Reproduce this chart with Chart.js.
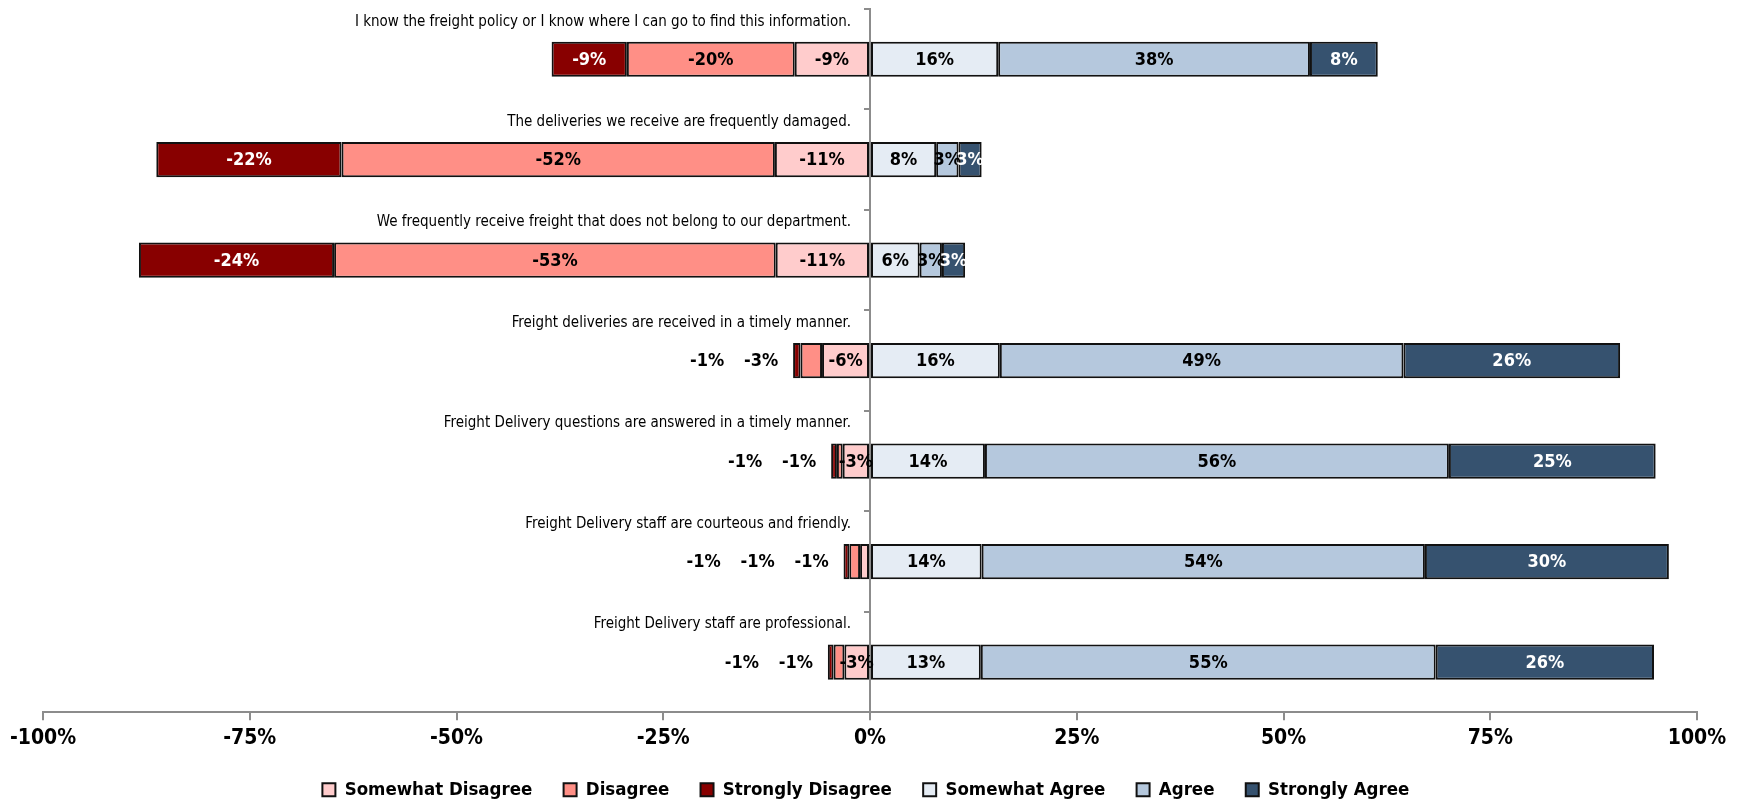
<!DOCTYPE html>
<html>
<head>
<meta charset="utf-8">
<script src="https://cdn.jsdelivr.net/npm/chart.js@4.4.1/dist/chart.umd.min.js"></script>
<style>
    html, body { margin: 0; padding: 0; background: #fff; overflow: hidden; }
    .chart-box { width: 1741px; height: 804px; position: relative; }
</style>
</head>
<body>
<div class="chart-box"><canvas id="likert"></canvas></div>
<script>
const categories = [
    'I know the freight policy or I know where I can go to find this information.',
    'The deliveries we receive are frequently damaged.',
    'We frequently receive freight that does not belong to our department.',
    'Freight deliveries are received in a timely manner.',
    'Freight Delivery questions are answered in a timely manner.',
    'Freight Delivery staff are courteous and friendly.',
    'Freight Delivery staff are professional.'
]

// disagree side is stored as positive shares, flipped to negative below
const somewhatDisagree = [9.1, 11.5, 11.4, 5.8, 3.3, 1.2, 3.1]
const disagree = [20.3, 52.4, 53.4, 2.6, 0.7, 1.3, 1.3]
const stronglyDisagree = [9.1, 22.4, 23.6, 0.9, 0.7, 0.7, 0.7]
const somewhatAgree = [15.5, 8.0, 6.0, 15.7, 13.9, 13.5, 13.4]
const agree = [37.7, 2.7, 2.7, 48.8, 56.1, 53.6, 55.0]
const stronglyAgree = [8.2, 2.8, 2.8, 26.2, 25.0, 29.5, 26.4]

const xTicks = [-100, -75, -50, -25, 0, 25, 50, 75, 100]

const narrow = '"Liberation Sans Narrow", "Arial Narrow", "DejaVu Sans Condensed", sans-serif'

const series = [
    { label: 'Somewhat Disagree', data: somewhatDisagree.map(v => -v), color: '#FFCCCC', text: '#000' },
    { label: 'Disagree', data: disagree.map(v => -v), color: '#FF8F86', text: '#000' },
    { label: 'Strongly Disagree', data: stronglyDisagree.map(v => -v), color: '#880000', text: '#fff' },
    { label: 'Somewhat Agree', data: somewhatAgree, color: '#E5ECF4', text: '#000' },
    { label: 'Agree', data: agree, color: '#B5C8DD', text: '#000' },
    { label: 'Strongly Agree', data: stronglyAgree, color: '#36526F', text: '#fff' }
]

// question text sits above each bar, right-aligned against the zero line
const questionLabels = {
    id: 'questionLabels',
    afterDatasetsDraw(chart) {
        const ctx = chart.ctx
        const zero = chart.scales.x.getPixelForValue(0)
        const bar = chart.getDatasetMeta(0).data
        ctx.save()
        ctx.font = '15px ' + narrow
        ctx.fillStyle = '#000'
        ctx.textAlign = 'right'
        ctx.textBaseline = 'middle'
        for (let i = 0; i < categories.length; i++) {
            const top = bar[i].y - bar[i].height / 2
            ctx.fillText(categories[i], zero - 19, top - 20)
        }
        ctx.restore()
    }
}

// percentage labels; thin disagree slivers get pushed out to the left of the bar
const valueLabels = {
    id: 'valueLabels',
    afterDatasetsDraw(chart) {
        const ctx = chart.ctx
        ctx.save()
        ctx.font = 'bold 18px ' + narrow
        ctx.textAlign = 'center'
        ctx.textBaseline = 'middle'
        for (let i = 0; i < categories.length; i++) {
            let outside = 0
            const leftEdge = chart.getDatasetMeta(2).data[i].x
            series.forEach((s, d) => {
                const el = chart.getDatasetMeta(d).data[i]
                const v = s.data[i]
                const txt = Math.round(v) + '%'
                if (v > 0 || v <= -3) {
                    ctx.fillStyle = s.text
                    ctx.fillText(txt, (el.x + el.base) / 2, el.y + 1)
                } else {
                    ctx.fillStyle = '#000'
                    ctx.fillText(txt, leftEdge - 32 - outside * 54, el.y + 1)
                    outside++
                }
            })
        }
        ctx.restore()
    }
}

new Chart(document.getElementById('likert'), {
    type: 'bar',
    data: {
        labels: categories,
        datasets: series.map(s => ({
            label: s.label,
            data: s.data,
            backgroundColor: s.color,
            borderColor: '#111',
            borderWidth: 2,
            borderSkipped: false,
            barPercentage: 0.35,
            categoryPercentage: 1
        }))
    },
    options: {
        indexAxis: 'y',
        animation: false,
        responsive: true,
        maintainAspectRatio: false,
        layout: {
            padding: { left: 43, right: 44, top: 9, bottom: -5 }
        },
        plugins: {
            legend: {
                position: 'bottom',
                labels: {
                    boxWidth: 13,
                    boxHeight: 13,
                    padding: 23,
                    color: '#000',
                    font: { family: narrow, size: 18.5, weight: 'bold' },
                    // a trailing en space widens the gap between entries without adding vertical room
                    generateLabels: chart => Chart.defaults.plugins.legend.labels.generateLabels(chart)
                        .map(item => ({ ...item, text: item.text + '\u2002' }))
                }
            },
            tooltip: { enabled: false }
        },
        scales: {
            x: {
                stacked: true,
                min: -100,
                max: 100,
                afterBuildTicks: scale => {
                    scale.ticks = xTicks.map(v => ({ value: v }))
                },
                ticks: {
                    color: '#000',
                    padding: 6,
                    callback: v => v + '%',
                    font: { family: narrow, size: 21, weight: 'bold' }
                },
                grid: {
                    drawOnChartArea: false,
                    tickLength: 8,
                    color: '#8c8c8c',
                    lineWidth: 2
                },
                border: { color: '#8c8c8c', width: 2 }
            },
            y: {
                stacked: true,
                position: { x: 0 },
                ticks: { display: false },
                grid: {
                    drawOnChartArea: false,
                    tickLength: 5,
                    color: '#8c8c8c',
                    lineWidth: 2
                },
                border: { color: '#8c8c8c', width: 2 }
            }
        }
    },
    plugins: [questionLabels, valueLabels]
})
</script>
</body>
</html>
